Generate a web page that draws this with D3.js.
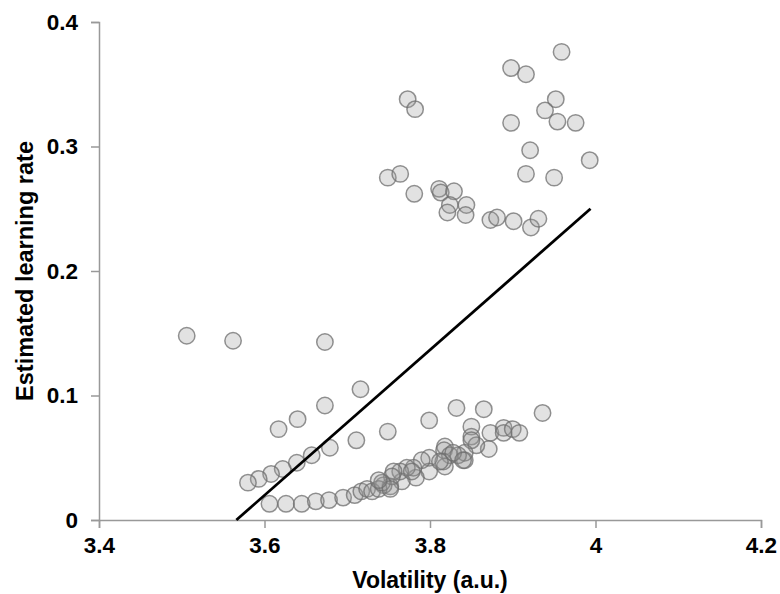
<!DOCTYPE html>
<html>
<head>
<meta charset="utf-8">
<script src="https://cdn.jsdelivr.net/npm/d3@7"></script>
<style>
    body { margin: 0; background: #fff; }
    text { font-family: "Liberation Sans", Arial, sans-serif; font-weight: bold; }
</style>
</head>
<body>
<div id="chart"></div>
<script>
// volatility (x) and estimated learning rate (y) of each dot
var volatility = [
    3.959, 3.898, 3.916, 3.773, 3.782, 3.952, 3.939, 3.954, 3.976, 3.898,
    3.921, 3.993, 3.749, 3.764, 3.781, 3.811, 3.813, 3.829, 3.824, 3.844,
    3.821, 3.843, 3.873, 3.881, 3.901, 3.922, 3.931, 3.916, 3.950,
    3.506, 3.562, 3.673,
    3.716, 3.673, 3.640, 3.617, 3.711, 3.749, 3.679, 3.657, 3.639, 3.622,
    3.608, 3.593, 3.580, 3.799, 3.832, 3.865, 3.936,
    3.850, 3.850, 3.873, 3.889, 3.889, 3.900, 3.908, 3.871, 3.856, 3.850,
    3.842, 3.842, 3.818, 3.817, 3.824, 3.818, 3.816, 3.799, 3.799, 3.790,
    3.783, 3.780, 3.772, 3.766, 3.764, 3.756, 3.752, 3.744, 3.754, 3.834,
    3.812, 3.828, 3.840,
    3.606, 3.626, 3.645, 3.662, 3.678, 3.695, 3.709, 3.717, 3.724, 3.730,
    3.738, 3.742, 3.752, 3.738, 3.778
];
var learningRate = [
    0.376, 0.363, 0.358, 0.338, 0.330, 0.338, 0.329, 0.320, 0.319, 0.319,
    0.297, 0.289, 0.275, 0.278, 0.262, 0.266, 0.263, 0.264, 0.253, 0.253,
    0.247, 0.245, 0.241, 0.243, 0.240, 0.235, 0.242, 0.278, 0.275,
    0.148, 0.144, 0.143,
    0.105, 0.092, 0.081, 0.073, 0.064, 0.071, 0.058, 0.052, 0.046, 0.041,
    0.037, 0.033, 0.030, 0.080, 0.090, 0.089, 0.086,
    0.075, 0.067, 0.070, 0.074, 0.070, 0.073, 0.070, 0.057, 0.060, 0.064,
    0.048, 0.054, 0.059, 0.056, 0.052, 0.043, 0.047, 0.050, 0.039, 0.048,
    0.034, 0.042, 0.042, 0.031, 0.039, 0.039, 0.027, 0.028, 0.035, 0.052,
    0.047, 0.054, 0.048,
    0.013, 0.013, 0.013, 0.015, 0.016, 0.018, 0.020, 0.023, 0.025, 0.023,
    0.025, 0.030, 0.025, 0.032, 0.039
];

// fitted line end points
var fitX = [3.566, 3.994];
var fitY = [0, 0.25];

var xTicks = [3.4, 3.6, 3.8, 4, 4.2];
var yTicks = [0, 0.1, 0.2, 0.3, 0.4];

var width = 780, height = 594;
var margin = { top: 22, right: 19, bottom: 74, left: 99 };

/**
 * Appends the svg that holds the whole chart.
 */
function appendSVG(id) {
    return d3.select("#" + id)
        .append("svg")
        .attr("width", width)
        .attr("height", height);
}

/**
 * Draws both axes with their tick labels and titles.
 */
function drawAxes(svg, x, y) {
    var xAxis = svg.append("g")
        .attr("transform", "translate(0," + (height - margin.bottom) + ")")
        .call(d3.axisBottom(x).tickValues(xTicks).tickSizeOuter(0).tickSize(8)
            .tickPadding(9).tickFormat(function (d) { return String(d); }));

    var yAxis = svg.append("g")
        .attr("transform", "translate(" + margin.left + ",0)")
        .call(d3.axisLeft(y).tickValues(yTicks).tickSizeOuter(0).tickSize(8)
            .tickPadding(13).tickFormat(function (d) { return String(d); }));

    [xAxis, yAxis].forEach(function (g) {
        g.select(".domain").attr("stroke", "#999").attr("stroke-width", 1.5);
        g.selectAll(".tick line").attr("stroke", "#999").attr("stroke-width", 1.5);
        g.selectAll(".tick text")
            .attr("fill", "#000")
            .style("font-size", "22.5px")
            .style("font-family", "'Liberation Sans', Arial, sans-serif")
            .style("font-weight", "bold");
    });

    svg.append("text")
        .attr("x", (margin.left + width - margin.right) / 2)
        .attr("y", 588)
        .style("text-anchor", "middle")
        .style("font-size", "23px")
        .text("Volatility (a.u.)");

    svg.append("text")
        .attr("transform", "translate(33," + (margin.top + height - margin.bottom) / 2 + ") rotate(-90)")
        .style("text-anchor", "middle")
        .style("font-size", "23.5px")
        .text("Estimated learning rate");
}

/**
 * Builds the scatter plot and the fitted line.
 */
function drawChart() {
    var svg = appendSVG("chart");

    var x = d3.scaleLinear().domain([3.4, 4.2]).range([margin.left, width - margin.right]);
    var y = d3.scaleLinear().domain([0, 0.4]).range([height - margin.bottom, margin.top]);

    drawAxes(svg, x, y);

    var points = volatility.map(function (v, i) {
        return { x: v, y: learningRate[i] };
    });

    svg.append("g")
        .selectAll("circle")
        .data(points)
        .enter()
        .append("circle")
        .attr("cx", function (d) { return x(d.x); })
        .attr("cy", function (d) { return y(d.y); })
        .attr("r", 8.2)
        .attr("fill", "rgba(150,150,150,0.28)")
        .attr("stroke", "rgba(110,110,110,0.75)")
        .attr("stroke-width", 1.5);

    var line = d3.line()
        .x(function (d) { return x(d[0]); })
        .y(function (d) { return y(d[1]); });

    svg.append("path")
        .datum(fitX.map(function (v, i) { return [v, fitY[i]]; }))
        .attr("d", line)
        .attr("fill", "none")
        .attr("stroke", "#000")
        .attr("stroke-width", 2.8);
}

drawChart();
</script>
</body>
</html>
